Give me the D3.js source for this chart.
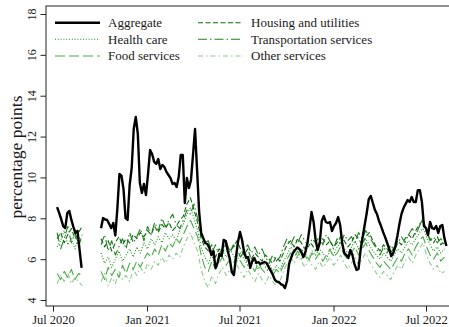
<!DOCTYPE html>
<html>
<head>
<meta charset="utf-8">
<script src="https://cdn.jsdelivr.net/npm/d3@7"></script>
<style>
  body { margin: 0; background: #fff; }
  svg { display: block; }
  text { font-family: "Liberation Serif", "DejaVu Serif", serif; fill: #1a1a1a; }
</style>
</head>
<body>
<svg id="chart" width="449" height="327"></svg>
<script>
// ---- data -------------------------------------------------------------
// Two observation windows: summer 2020, then Oct 2020 onwards.
const startA = "2020-07-09";
const startB = "2020-10-03";
const stepAggregate = 4;   // days between aggregate readings
const stepSectors = 7;     // days between sector readings

const yTicks = [4, 6, 8, 10, 12, 14, 16, 18];
const xTickLabels = ["Jul 2020", "Jan 2021", "Jul 2021", "Jan 2022", "Jul 2022"];
const xTickDates = ["2020-07-01", "2021-01-01", "2021-07-01", "2022-01-01", "2022-07-01"];

const aggregateA = [8.55, 8.26, 7.96, 7.62, 7.52, 8.26, 8.36, 7.92, 7.57, 7.28, 7.38, 6.45, 5.57];
const aggregateB = [
  7.51, 8.01, 7.94, 7.92, 7.72, 7.52, 7.77, 7.16, 8.50, 10.17,
  10.09, 9.43, 8.01, 7.92, 9.63, 10.46, 12.37, 12.96, 12.13, 9.73,
  9.24, 9.68, 9.14, 10.17, 11.34, 11.15, 10.76, 10.66, 10.90, 10.41,
  10.61, 10.51, 10.27, 10.12, 9.97, 9.68, 9.73, 9.53, 10.02, 11.10,
  11.10, 8.75, 9.97, 9.48, 9.87, 11.10, 12.37, 10.36, 8.31, 7.28,
  7.03, 6.79, 6.74, 6.55, 6.20, 6.40, 5.57, 5.81, 6.25, 6.15,
  6.94, 6.89, 6.40, 6.01, 5.37, 5.22, 6.06, 6.84, 7.33, 6.94,
  6.35, 6.06, 6.10, 5.57, 5.91, 6.06, 5.81, 5.86, 5.76, 5.81,
  5.86, 5.81, 5.62, 5.44, 5.25, 5.00, 4.90, 4.88, 4.78, 4.73,
  4.59, 4.93, 5.76, 6.06, 6.33, 6.45, 6.57, 6.50, 6.35, 6.10,
  6.35, 6.79, 7.52, 8.31, 7.82, 6.94, 6.45, 6.79, 7.87, 8.11,
  7.82, 7.77, 7.82, 7.38, 7.62, 7.77, 8.06, 7.67, 6.79, 6.30,
  6.20, 6.06, 6.45, 6.20, 5.76, 5.47, 5.52, 6.45, 7.08, 7.67,
  8.26, 8.94, 9.09, 8.75, 8.41, 8.21, 7.87, 7.62, 7.33, 7.08,
  6.79, 6.50, 6.15, 6.30, 6.64, 7.13, 7.72, 8.21, 8.50, 8.70,
  8.89, 8.80, 9.04, 8.80, 8.80, 9.38, 9.38, 8.80, 7.62, 7.52,
  7.18, 7.82, 7.52, 7.48, 7.62, 7.28, 7.62, 7.67, 7.03, 6.64
];

const housingA = [7.0, 7.3, 6.8, 7.2, 7.5, 7.0, 7.3, 7.6];
const housingB = [
  7.0, 6.6, 6.9, 6.4, 6.8, 7.1, 6.7, 7.0, 6.8, 7.2,
  7.0, 7.3, 7.1, 7.4, 7.2, 7.6, 7.3, 7.7, 7.5, 7.8,
  7.4, 7.6, 7.9, 8.1, 8.7, 9.0, 8.4, 7.8, 7.0, 6.6,
  6.4, 6.7, 6.1, 6.5, 6.3, 6.8, 6.4, 6.6, 6.9, 6.5,
  6.2, 6.5, 6.0, 6.3, 6.1, 5.9, 6.2, 6.0, 5.8, 6.1,
  5.9, 6.3, 6.7, 6.9, 6.6, 7.0, 6.8, 6.5, 6.9, 6.7,
  6.4, 6.8, 7.0, 6.7, 6.9, 6.6, 6.8, 7.1, 6.9, 6.6,
  6.8, 7.2, 7.0, 6.7, 7.1, 7.3, 6.9, 6.6, 6.4, 6.7,
  6.5, 6.3, 6.6, 6.9, 6.7, 7.0, 7.2, 7.0, 7.4, 7.7,
  7.9, 7.3, 7.0, 6.8, 7.1, 6.7, 6.9
];

const healthA = [6.6, 6.9, 7.4, 6.7, 7.0, 6.5, 7.1, 6.8];
const healthB = [
  6.3, 5.8, 6.1, 5.6, 6.0, 6.4, 5.9, 6.2, 6.5, 6.1,
  6.6, 6.3, 6.8, 6.5, 7.0, 6.7, 7.1, 6.8, 7.3, 7.0,
  7.2, 6.9, 7.4, 7.7, 8.2, 8.5, 8.0, 7.4, 6.6, 6.1,
  5.8, 6.2, 5.6, 6.0, 6.4, 6.1, 6.5, 6.2, 5.9, 6.3,
  6.0, 5.7, 6.1, 5.8, 5.5, 5.9, 5.6, 5.8, 5.4, 5.7,
  5.5, 5.9, 6.2, 6.6, 6.4, 6.1, 6.5, 6.3, 6.0, 6.4,
  6.2, 6.5, 6.3, 6.0, 6.4, 6.2, 6.6, 6.8, 6.5, 6.3,
  6.6, 6.9, 6.5, 6.8, 7.0, 6.7, 6.4, 6.2, 6.0, 6.3,
  6.1, 5.9, 6.2, 6.5, 6.3, 6.6, 6.9, 6.7, 7.0, 7.3,
  7.5, 7.1, 6.7, 6.4, 6.6, 6.3, 6.5
];

const transportA = [7.3, 6.5, 7.0, 7.6, 6.8, 7.3, 6.6, 7.2];
const transportB = [
  6.7, 7.2, 6.4, 6.9, 6.2, 6.6, 7.0, 6.5, 7.3, 6.8,
  7.1, 7.5, 6.9, 7.6, 7.2, 7.8, 7.4, 8.0, 7.6, 7.9,
  8.2, 7.7, 7.5, 7.9, 8.4, 8.2, 8.7, 8.0, 7.3, 6.8,
  6.9, 6.3, 6.7, 6.2, 6.6, 6.9, 6.3, 6.7, 6.5, 6.1,
  6.4, 6.7, 6.3, 6.6, 6.2, 6.5, 6.1, 5.8, 6.2, 5.9,
  6.1, 6.6, 7.0, 6.7, 7.1, 6.8, 7.2, 6.9, 6.6, 7.0,
  6.8, 7.1, 6.7, 7.2, 6.9, 6.5, 7.0, 6.7, 7.2, 6.9,
  7.1, 6.8, 7.3, 7.0, 7.4, 7.1, 6.8, 6.5, 6.2, 6.6,
  6.3, 6.7, 6.4, 6.8, 7.1, 6.8, 7.2, 7.5, 7.2, 7.6,
  8.0, 7.4, 6.9, 7.1, 6.8, 7.0, 6.7
];

const foodA = [5.3, 5.0, 5.4, 5.1, 5.5, 5.0, 5.3, 5.2];
const foodB = [
  5.4, 5.0, 5.6, 5.2, 5.5, 5.1, 5.7, 5.3, 5.8, 5.5,
  5.9, 5.6, 6.0, 6.3, 6.1, 6.5, 6.2, 6.7, 6.4, 6.8,
  6.6, 7.0, 6.8, 7.2, 7.6, 7.9, 7.5, 7.1, 6.2, 5.6,
  5.4, 5.9, 5.5, 5.8, 6.1, 5.7, 6.0, 5.8, 6.2, 5.9,
  5.6, 6.0, 5.7, 5.4, 5.8, 5.5, 5.3, 5.6, 5.2, 5.5,
  5.3, 5.7, 6.0, 6.3, 6.1, 6.4, 6.0, 6.2, 5.9, 6.3,
  6.0, 6.3, 5.9, 6.2, 6.5, 6.1, 6.3, 6.6, 6.2, 6.0,
  6.3, 6.6, 6.2, 6.5, 6.8, 6.4, 6.1, 5.8, 5.6, 5.9,
  5.7, 5.5, 5.8, 6.1, 5.9, 6.3, 6.5, 6.2, 6.6, 6.9,
  7.1, 6.6, 6.2, 6.0, 6.3, 5.9, 6.1
];

const otherA = [4.8, 5.2, 4.9, 5.3, 4.8, 5.1, 4.9, 4.7];
const otherB = [
  4.9, 5.3, 4.7, 5.1, 4.8, 5.4, 5.0, 5.2, 4.9, 5.5,
  5.2, 5.6, 5.3, 5.8, 5.5, 5.9, 5.7, 6.1, 5.8, 6.2,
  6.0, 6.3, 6.1, 6.6, 7.0, 7.3, 6.8, 6.4, 5.5, 4.9,
  4.6, 5.2, 4.8, 5.3, 5.6, 5.2, 5.5, 5.3, 5.7, 5.4,
  5.1, 5.5, 5.2, 4.9, 5.3, 5.0, 4.8, 5.2, 4.9, 4.7,
  4.9, 5.4, 5.8, 6.1, 5.8, 6.2, 5.9, 5.6, 6.0, 5.7,
  5.5, 5.9, 5.6, 5.8, 6.1, 5.7, 5.9, 6.2, 5.8, 5.5,
  5.8, 6.1, 5.7, 6.0, 6.3, 5.9, 5.6, 5.3, 5.1, 5.4,
  5.2, 5.0, 5.4, 5.7, 5.5, 5.9, 6.1, 5.8, 6.2, 6.5,
  6.8, 6.2, 5.8, 5.5, 5.7, 5.3, 5.4
];

// ---- series styling ---------------------------------------------------
const series = [
  { name: "Housing and utilities",  a: housingA,   b: housingB,   step: stepSectors,   color: "#0a6a0a", width: 1.1, dash: "5,2.5" },
  { name: "Health care",            a: healthA,    b: healthB,    step: stepSectors,   color: "#139213", width: 1.1, dash: "1,1.8" },
  { name: "Food services",          a: foodA,      b: foodB,      step: stepSectors,   color: "#4caa4c", width: 1.1, dash: "10,4" },
  { name: "Transportation services",a: transportA, b: transportB, step: stepSectors,   color: "#237f23", width: 1.1, dash: "9,3,1.5,3" },
  { name: "Other services",         a: otherA,     b: otherB,     step: stepSectors,   color: "#8ccb8c", width: 1.1, dash: "5,3,1.5,3" },
  { name: "Aggregate",              a: aggregateA, b: aggregateB, step: stepAggregate, color: "#000000", width: 2.4, dash: null }
];

// legend layout: two columns of three
const legendCols = [
  ["Aggregate", "Health care", "Food services"],
  ["Housing and utilities", "Transportation services", "Other services"]
];

// ---- scales -----------------------------------------------------------
const parse = d3.utcParse("%Y-%m-%d");
const svg = d3.select("#chart");

const plotLeft = 46, plotTop = 6, plotBottom = 306, plotRight = 458;

const x = d3.scaleUtc()
  .domain([parse("2020-07-01"), parse("2022-07-01")])
  .range([53, 426]);
x.domain([x.invert(plotLeft), x.invert(plotRight)]).range([plotLeft, plotRight]);

const y = d3.scaleLinear().domain([4, 18]).range([300, 14]);

// ---- axes & frame -----------------------------------------------------
svg.append("rect")
  .attr("x", plotLeft).attr("y", plotTop)
  .attr("width", plotRight - plotLeft).attr("height", plotBottom - plotTop)
  .attr("fill", "none").attr("stroke", "#222").attr("stroke-width", 1);

const xAxis = svg.append("g")
  .attr("transform", `translate(0,${plotBottom})`)
  .call(d3.axisBottom(x)
    .tickValues(xTickDates.map(parse))
    .tickFormat((d, i) => xTickLabels[i])
    .tickSize(5.5)
    .tickPadding(4));
xAxis.select(".domain").remove();
xAxis.selectAll("line").attr("stroke", "#222");
xAxis.selectAll("text")
  .attr("font-size", 12.5)
  .attr("fill", "#1a1a1a");

const yAxis = svg.append("g")
  .attr("transform", `translate(${plotLeft},0)`)
  .call(d3.axisLeft(y).tickValues(yTicks).tickSize(5.5));
yAxis.select(".domain").remove();
yAxis.selectAll("line").attr("stroke", "#222");
yAxis.selectAll("text")
  .attr("x", null).attr("dy", null)
  .attr("text-anchor", "middle")
  .attr("transform", "translate(-10.5,0) rotate(-90)")
  .attr("font-size", 12)
  .attr("fill", "#1a1a1a");

svg.append("text")
  .attr("transform", "translate(21.5,157) rotate(-90)")
  .attr("text-anchor", "middle")
  .attr("font-size", 17.5)
  .text("percentage points");

// ---- lines ------------------------------------------------------------
svg.append("clipPath").attr("id", "plot-clip")
  .append("rect")
  .attr("x", plotLeft).attr("y", plotTop)
  .attr("width", plotRight - plotLeft).attr("height", plotBottom - plotTop);

const line = d3.line()
  .x(d => x(d.date))
  .y(d => y(d.value));

function toPoints(values, start, step) {
  const t0 = parse(start);
  return values.map((v, i) => ({ date: d3.utcDay.offset(t0, i * step), value: v }));
}

const plot = svg.append("g").attr("clip-path", "url(#plot-clip)");
series.forEach(s => {
  [toPoints(s.a, startA, s.step), toPoints(s.b, startB, s.step)].forEach(pts => {
    plot.append("path")
      .datum(pts)
      .attr("d", line)
      .attr("fill", "none")
      .attr("stroke", s.color)
      .attr("stroke-width", s.width)
      .attr("stroke-dasharray", s.dash)
      .attr("stroke-linejoin", "round");
  });
});

// ---- legend -----------------------------------------------------------
const legendRowY = [22.7, 39.3, 56];
const legendColX = [55, 198];
const byName = new Map(series.map(s => [s.name, s]));
legendCols.forEach((col, ci) => {
  col.forEach((name, ri) => {
    const s = byName.get(name);
    const g = svg.append("g").attr("transform", `translate(${legendColX[ci]},${legendRowY[ri]})`);
    g.append("line")
      .attr("x1", 0).attr("x2", 45).attr("y1", 0).attr("y2", 0)
      .attr("stroke", s.color)
      .attr("stroke-width", s.width)
      .attr("stroke-dasharray", s.dash);
    g.append("text")
      .attr("x", 53).attr("y", 4.3)
      .attr("font-size", 13)
      .text(name);
  });
});
</script>
</body>
</html>
